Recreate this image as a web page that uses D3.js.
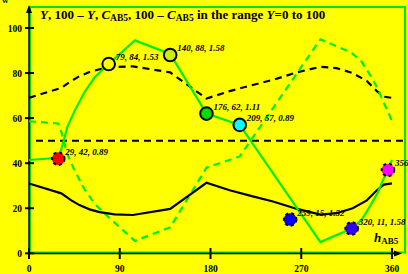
<!DOCTYPE html>
<html>
<head>
<meta charset="utf-8">
<script src="https://cdn.jsdelivr.net/npm/d3@7"></script>
<style>
  html, body { margin: 0; padding: 0; background: #ffff00; }
  svg { display: block; }
</style>
</head>
<body>
<div id="chart"></div>
<script>
// hue axis ticks
const hTicks = [0, 90, 180, 270, 360];
const yTicks = [0, 20, 40, 60, 80, 100];

// black curve Y and its complement 100 - Y
const hBlack = [0, 32, 42, 50, 60, 70, 85, 103, 140, 176, 199, 220, 242, 265, 289, 305, 321, 335, 345, 352, 360];
const yBlack = [31, 26.6, 23.5, 21.4, 19.5, 18.3, 17.3, 17, 19.7, 31.3, 28, 25.5, 23, 19.8, 17.2, 17.8, 20, 23.5, 28, 30.5, 31];
const yBlackComp = [69, 73.4, 76.5, 78.6, 80.5, 81.7, 82.7, 83, 80.3, 68.7, 72, 74.5, 77, 80.2, 82.8, 82.2, 80, 76.5, 72, 69.5, 69];

// green curve C_AB5 and its complement 100 - C_AB5
const hGreen = [0, 29, 32, 38, 45, 55, 65, 79, 105, 140, 176, 209, 289, 320, 330, 338, 346, 351, 356, 360];
const cGreen = [41.4, 42.4, 46, 56, 63, 71.5, 78, 84, 94.5, 88.5, 62, 57, 5, 11, 15, 20.7, 27, 32.5, 37, 41.4];
const cGreenComp = [58.6, 57.6, 54, 44, 37, 28.5, 22, 16, 5.5, 11.5, 38, 43, 95, 89, 85, 79.3, 73, 67.5, 63, 58.6];

// marked points: hue, value, third value, fill
const ptH = [29, 79, 140, 176, 209, 259, 320, 356];
const ptV = [42, 84, 88, 62, 57, 15, 11, 37];
const ptC = ["0.89", "1.53", "1.58", "1.11", "0.89", "1.52", "1.58", "1.11"];
const ptFill = ["#ff0000", "#ffff00", "#ccee00", "#00dd00", "#00ffff", "#0000ff", "#3300ff", "#ff00ff"];
const ptDashed = [true, false, false, false, false, true, true, true];

const W = 408, H = 274;
const svg = d3.select("#chart").append("svg")
    .attr("width", W).attr("height", H)
    .style("background", "#ffff00")
    .style("font-family", "'Liberation Serif', 'DejaVu Serif', serif");

const x = d3.scaleLinear().domain([0, 360]).range([29, 392]);
const y = d3.scaleLinear().domain([0, 100]).range([253.3, 28]);

// green frame
svg.append("rect")
    .attr("x", 30).attr("y", 7).attr("width", 375).attr("height", 245.5)
    .attr("fill", "none").attr("stroke", "#00e600").attr("stroke-width", 2);

// axes
svg.append("line").attr("x1", 29).attr("x2", 29).attr("y1", 254).attr("y2", 10)
    .attr("stroke", "#000").attr("stroke-width", 1.5);
svg.append("path").attr("d", "M29,5 L26,13 L32,13 Z").attr("fill", "#000");
svg.append("line").attr("x1", 28).attr("x2", 397).attr("y1", 253.5).attr("y2", 253.5)
    .attr("stroke", "#000").attr("stroke-width", 1.5);
svg.append("path").attr("d", "M402,253.5 L394,250.5 L394,256.5 Z").attr("fill", "#000");

svg.selectAll(".yt").data(yTicks).enter().append("line")
    .attr("x1", 25).attr("x2", 34)
    .attr("y1", d => y(d)).attr("y2", d => y(d))
    .attr("stroke", "#000").attr("stroke-width", 2);
svg.selectAll(".ytl").data(yTicks).enter().append("text")
    .attr("x", 22).attr("y", d => y(d) + 3.5)
    .attr("text-anchor", "end").attr("font-size", 9.5).attr("font-weight", "bold")
    .text(d => d);

svg.selectAll(".xt").data(hTicks).enter().append("line")
    .attr("x1", d => x(d)).attr("x2", d => x(d))
    .attr("y1", 248).attr("y2", 259)
    .attr("stroke", "#000").attr("stroke-width", 2);
svg.selectAll(".xtl").data(hTicks).enter().append("text")
    .attr("x", d => x(d)).attr("y", 272)
    .attr("text-anchor", "middle").attr("font-size", 9.5).attr("font-weight", "bold")
    .text(d => d);

// axis label h_AB5
const hl = svg.append("text").attr("x", 374).attr("y", 242)
    .attr("font-weight", "bold").attr("font-size", 13);
hl.append("tspan").attr("font-style", "italic").text("h");
hl.append("tspan").attr("font-size", 9).attr("dy", 2).text("AB5");

// title
const t = svg.append("text").attr("x", 40).attr("y", 19)
    .attr("font-weight", "bold").attr("font-size", 13);
t.append("tspan").attr("font-style", "italic").text("Y");
t.append("tspan").text(", 100 \u2013 ");
t.append("tspan").attr("font-style", "italic").text("Y");
t.append("tspan").text(", ");
t.append("tspan").attr("font-style", "italic").text("C");
t.append("tspan").attr("font-size", 9.5).attr("dy", 2).text("AB5");
t.append("tspan").attr("dy", -2).text(", 100 \u2013 ");
t.append("tspan").attr("font-style", "italic").text("C");
t.append("tspan").attr("font-size", 9.5).attr("dy", 2).text("AB5");
t.append("tspan").attr("dy", -2).text(" in the range ");
t.append("tspan").attr("font-style", "italic").text("Y");
t.append("tspan").text("=0 to 100");

// cut-off text at top edge
svg.append("text").attr("x", 2).attr("y", 3).attr("font-size", 9).attr("font-weight", "bold").text("w");

// 50 line
svg.append("line").attr("x1", 36).attr("x2", 405).attr("y1", y(50)).attr("y2", y(50))
    .attr("stroke", "#000").attr("stroke-width", 2).attr("stroke-dasharray", "7,5");

const line = d3.line().x(d => x(d[0])).y(d => y(d[1]));
const zip = (a, b) => a.map((v, i) => [v, b[i]]);

svg.append("path").datum(zip(hBlack, yBlackComp)).attr("d", line)
    .attr("fill", "none").attr("stroke", "#000").attr("stroke-width", 2.2)
    .attr("stroke-dasharray", "7,5");
svg.append("path").datum(zip(hGreen, cGreenComp)).attr("d", line)
    .attr("fill", "none").attr("stroke", "#00ee00").attr("stroke-width", 2.2)
    .attr("stroke-dasharray", "7,5");
svg.append("path").datum(zip(hBlack, yBlack)).attr("d", line)
    .attr("fill", "none").attr("stroke", "#000").attr("stroke-width", 2.2);
svg.append("path").datum(zip(hGreen, cGreen)).attr("d", line)
    .attr("fill", "none").attr("stroke", "#00ee00").attr("stroke-width", 2.2);

// points
const pts = ptH.map((h, i) => ({ h: h, v: ptV[i], c: ptC[i], fill: ptFill[i], dashed: ptDashed[i] }));
svg.selectAll(".pt").data(pts).enter().append("circle")
    .attr("cx", d => x(d.h)).attr("cy", d => y(d.v)).attr("r", 6.3)
    .attr("fill", d => d.fill).attr("stroke", "#000").attr("stroke-width", 2)
    .attr("stroke-dasharray", d => d.dashed ? "3,3" : null);
svg.selectAll(".ptl").data(pts).enter().append("text")
    .attr("x", d => x(d.h) + 7).attr("y", d => y(d.v) - 4)
    .attr("font-size", 9).attr("font-weight", "bold").attr("font-style", "italic")
    .text(d => `${d.h}, ${d.v}, ${d.c}`);
</script>
</body>
</html>
